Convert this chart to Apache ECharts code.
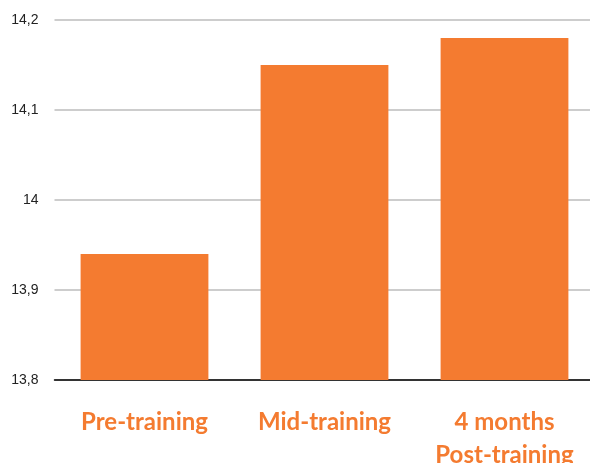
<!DOCTYPE html>
<html><head><meta charset="utf-8">
<script src="https://cdn.jsdelivr.net/npm/echarts@6/dist/echarts.min.js"></script>
<style>html,body{margin:0;padding:0;background:#fff}#c{width:590px;height:463px}</style>
</head><body><div id="c"></div>
<script>
const categories = ["Pre-training", "Mid-training", "4 months\nPost-training"];
const values = [13.94, 14.15, 14.18];
const yTicks = [13.8, 13.9, 14.0, 14.1, 14.2];

const chart = echarts.init(document.getElementById('c'), null, {renderer: 'canvas'});
chart.setOption({
  animation: false,
  grid: {left: 54.5, width: 540, top: 20, height: 360, containLabel: false, outerBoundsMode: 'none'},
  xAxis: {
    type: 'category', data: categories,
    axisLine: {show: true, lineStyle: {color: '#000', width: 1.5}},
    axisTick: {show: false},
    axisLabel: {
      color: '#F47B30', fontSize: 24, fontWeight: 'bold', fontFamily: 'Lato',
      margin: 26, lineHeight: 33, interval: 0
    }
  },
  yAxis: {
    type: 'value', min: 13.8, max: 14.2, interval: 0.1,
    axisLine: {show: false}, axisTick: {show: false},
    splitLine: {lineStyle: {color: '#bdbdbd', width: 1.5}},
    axisLabel: {
      color: '#222', fontSize: 14, fontFamily: 'Liberation Sans', margin: 16,
      formatter: v => { const t = yTicks.find(x => Math.abs(x - v) < 1e-6); const s = (t === undefined ? v : t); return (Math.round(s*10)/10).toString().replace('.', ','); }
    }
  },
  series: [{
    type: 'bar', data: values, barWidth: '71%',
    itemStyle: {color: '#F47B30'}
  }]
});
</script></body></html>
